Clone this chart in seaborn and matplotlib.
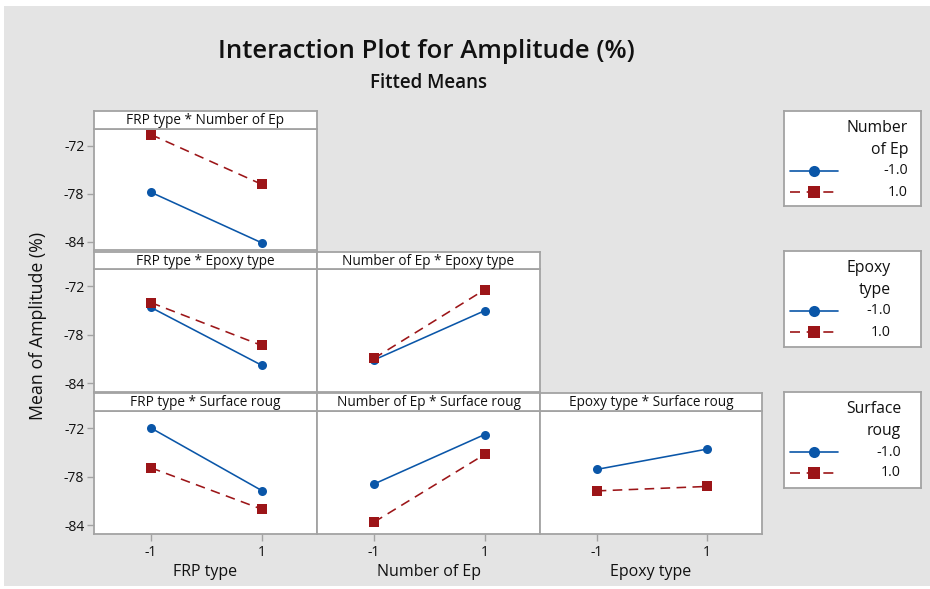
import matplotlib
matplotlib.use("Agg")
import matplotlib.pyplot as plt
from matplotlib.patches import Rectangle
from matplotlib.lines import Line2D
import numpy as np
import pandas as pd
import seaborn as sns

# ---- data: fitted means for each two-factor interaction ----
levels = [-1, 1]
level_names = ["-1.0", "1.0"]

panel_titles = [
    "FRP type * Number of Ep",
    "FRP type * Epoxy type",
    "Number of Ep * Epoxy type",
    "FRP type * Surface roug",
    "Number of Ep * Surface roug",
    "Epoxy type * Surface roug",
]
# (row, col) grid slot of each panel
panel_slots = [(0, 0), (1, 0), (1, 1), (2, 0), (2, 1), (2, 2)]

frp_numep_lo = [-77.8, -84.1]
frp_numep_hi = [-70.6, -76.8]
frp_epoxy_lo = [-74.6, -81.75]
frp_epoxy_hi = [-74.0, -79.3]
numep_epoxy_lo = [-81.1, -75.0]
numep_epoxy_hi = [-80.9, -72.4]
frp_surf_lo = [-72.0, -79.7]
frp_surf_hi = [-76.9, -82.0]
numep_surf_lo = [-78.9, -72.8]
numep_surf_hi = [-83.6, -75.25]
epoxy_surf_lo = [-77.1, -74.6]
epoxy_surf_hi = [-79.75, -79.2]

panel_values = [
    (frp_numep_lo, frp_numep_hi),
    (frp_epoxy_lo, frp_epoxy_hi),
    (numep_epoxy_lo, numep_epoxy_hi),
    (frp_surf_lo, frp_surf_hi),
    (numep_surf_lo, numep_surf_hi),
    (epoxy_surf_lo, epoxy_surf_hi),
]

x_factor_names = ["FRP type", "Number of Ep", "Epoxy type"]
legend_titles = ["Number\nof Ep", "Epoxy\ntype", "Surface\nroug"]
y_ticks = [-72, -78, -84]

rows = []
for title, (lo, hi) in zip(panel_titles, panel_values):
    for lvl_name, vals in zip(level_names, (lo, hi)):
        for xv, yv in zip(levels, vals):
            rows.append({"panel": title, "x": xv, "level": lvl_name, "mean": yv})
df = pd.DataFrame(rows)

# ---- style ----
sns.set_theme(style="white")
plt.rcParams["font.family"] = ["Open Sans", "DejaVu Sans"]

BLUE = "#0a56a8"
RED = "#9c1518"
GRID_GRAY = "#a3a3a3"
BG = "#e4e4e4"
palette = {"-1.0": BLUE, "1.0": RED}
markers = {"-1.0": "o", "1.0": "s"}
dashes = {"-1.0": "", "1.0": (6, 4)}

W, H = 930, 589
fig = plt.figure(figsize=(W / 100, H / 100), dpi=100, facecolor="white")


def px_box(x0, y0, x1, y1):
    return [x0 / W, 1 - y1 / H, (x1 - x0) / W, (y1 - y0) / H]


# grey panel behind everything
fig.patches.append(Rectangle((4 / W, 1 - 586 / H), 926 / W, 580 / H,
                             transform=fig.transFigure, facecolor=BG,
                             edgecolor="none", zorder=-10))

col_px = [(94, 317), (317, 540), (540, 762)]
row_plot_px = [(129, 250), (269.5, 391.5), (411, 533.5)]
row_strip_px = [(111, 129), (251.5, 269.5), (393, 411)]

for title, (r, c) in zip(panel_titles, panel_slots):
    x0, x1 = col_px[c]
    y0, y1 = row_plot_px[r]
    ax = fig.add_axes(px_box(x0, y0, x1, y1))
    sub = df[df["panel"] == title]
    sns.lineplot(data=sub, x="x", y="mean", hue="level", style="level",
                 palette=palette, markers=markers, dashes=dashes,
                 markersize=6.5, markeredgewidth=0, linewidth=1.15,
                 legend=False, ax=ax, sort=False)
    ax.set_xlim(-2.03, 2.0)
    ax.set_ylim(-85.0, -69.9)
    ax.set_facecolor("white")
    for s in ax.spines.values():
        s.set_color(GRID_GRAY)
        s.set_linewidth(1.3)
    ax.set_xlabel("")
    ax.set_ylabel("")
    if c == 0:
        ax.set_yticks(y_ticks)
        ax.set_yticklabels([str(t) for t in y_ticks])
        ax.tick_params(axis="y", left=True, length=5, width=1, color=GRID_GRAY,
                       labelsize=10, labelcolor="#111111", pad=2)
    else:
        ax.set_yticks([])
    if r == 2:
        ax.set_xticks(levels)
        ax.set_xticklabels([str(v) for v in levels])
        ax.tick_params(axis="x", bottom=True, length=5, width=1, color=GRID_GRAY,
                       labelsize=10, labelcolor="#111111", pad=3)
        ax.set_xlabel(x_factor_names[c], fontsize=11.5, color="#111111", labelpad=3)
    else:
        ax.set_xticks([])

    # strip with the panel title
    sy0, sy1 = row_strip_px[r]
    sax = fig.add_axes(px_box(x0, sy0, x1, sy1))
    sax.set_facecolor("white")
    sax.set_xticks([])
    sax.set_yticks([])
    for s in sax.spines.values():
        s.set_color(GRID_GRAY)
        s.set_linewidth(1.3)
    sax.text(0.5, 0.45, title, ha="center", va="center", fontsize=9.8,
             color="#111111", transform=sax.transAxes)

# titles
fig.text(426 / W, 1 - 52 / H, "Interaction Plot for Amplitude (%)", ha="center",
         va="center", fontsize=18.5, fontweight="semibold", color="#111111")
fig.text(428 / W, 1 - 83 / H, "Fitted Means", ha="center", va="center",
         fontsize=13.5, fontweight="semibold", color="#111111")
fig.text(38 / W, 1 - 326 / H, "Mean of Amplitude (%)", ha="center", va="center",
         rotation=90, fontsize=12.8, color="#111111")

# legend boxes, one per hue factor
legend_boxes_px = [(784, 111, 921, 206), (784, 251, 921, 347), (784, 392, 921, 488)]
legend_text_right = [908, 891, 901]
for (lx0, ly0, lx1, ly1), ltitle, tr in zip(legend_boxes_px, legend_titles, legend_text_right):
    lax = fig.add_axes(px_box(lx0, ly0, lx1, ly1))
    lax.set_xlim(lx0, lx1)
    lax.set_ylim(ly1, ly0)
    lax.set_facecolor("white")
    lax.set_xticks([])
    lax.set_yticks([])
    for s in lax.spines.values():
        s.set_color(GRID_GRAY)
        s.set_linewidth(1.3)
    lax.text(tr, ly0 + 9, ltitle, ha="right", va="top", fontsize=11.3,
             linespacing=1.5, multialignment="right", color="#111111")
    ys = [ly0 + 60, ly0 + 81]
    for lvl, yy in zip(level_names, ys):
        lax.add_line(Line2D([790, 838], [yy, yy], color=palette[lvl], lw=1.2,
                            dashes=dashes[lvl] if dashes[lvl] else (None, None)))
        lax.plot([814], [yy], marker=markers[lvl], color=palette[lvl],
                 markersize=8, markeredgewidth=0)
        lax.text(tr, yy, lvl, ha="right", va="center", fontsize=10.3,
                 color="#111111")

fig.savefig("out.png", dpi=100, facecolor="white")
